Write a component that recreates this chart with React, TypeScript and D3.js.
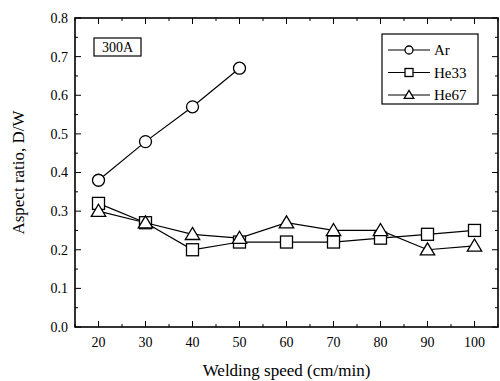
import React, { useRef, useEffect } from 'react';
import * as d3 from 'd3';

const speeds = [20, 30, 40, 50, 60, 70, 80, 90, 100];
const arValues = [0.38, 0.48, 0.57, 0.67];
const he33Values = [0.32, 0.27, 0.20, 0.22, 0.22, 0.22, 0.23, 0.24, 0.25];
const he67Values = [0.30, 0.27, 0.24, 0.23, 0.27, 0.25, 0.25, 0.20, 0.21];
const seriesNames = ['Ar', 'He33', 'He67'];
const yTicks = [0, 0.1, 0.2, 0.3, 0.4, 0.5, 0.6, 0.7, 0.8];

const App: React.FC = () => {
  const svgRef = useRef<SVGSVGElement | null>(null);

  useEffect(() => {
    const svg = d3.select(svgRef.current);
    svg.selectAll('*').remove();
    const width = 500;
    const height = 381;
    const margin = { top: 18, right: 2, bottom: 54, left: 75 };
    const font = 'Liberation Serif, DejaVu Serif, serif';

    svg.attr('width', width).attr('height', height)
      .attr('font-family', font)
      .style('position', 'absolute').style('left', 0).style('top', 0)
      .style('background', '#fff');

    const x = d3.scaleLinear().domain([15, 105]).range([margin.left, width - margin.right]);
    const y = d3.scaleLinear().domain([0, 0.8]).range([height - margin.bottom, margin.top]);
    const x0 = margin.left, x1 = width - margin.right, y0 = height - margin.bottom, y1 = margin.top;

    // frame
    svg.append('rect')
      .attr('x', x0).attr('y', y1).attr('width', x1 - x0).attr('height', y0 - y1)
      .attr('fill', 'none').attr('stroke', '#000').attr('stroke-width', 1.6);

    const ticks = svg.append('g').attr('stroke', '#000').attr('stroke-width', 1);
    const xMinor = d3.range(15, 106, 5);
    xMinor.forEach(v => {
      const len = v % 10 === 0 ? 6 : 3;
      ticks.append('line').attr('x1', x(v)).attr('x2', x(v)).attr('y1', y0).attr('y2', y0 - len);
      ticks.append('line').attr('x1', x(v)).attr('x2', x(v)).attr('y1', y1).attr('y2', y1 + len);
    });
    const yMinor = d3.range(0, 0.801, 0.05);
    yMinor.forEach((v, i) => {
      const len = i % 2 === 0 ? 6 : 3;
      ticks.append('line').attr('x1', x0).attr('x2', x0 + len).attr('y1', y(v)).attr('y2', y(v));
      ticks.append('line').attr('x1', x1).attr('x2', x1 - len).attr('y1', y(v)).attr('y2', y(v));
    });

    // tick labels
    svg.append('g').selectAll('text').data(speeds).enter().append('text')
      .attr('x', d => x(d)).attr('y', y0 + 20)
      .attr('text-anchor', 'middle')
      .attr('font-family', font).attr('font-size', 14)
      .text(d => d);
    svg.append('g').selectAll('text').data(yTicks).enter().append('text')
      .attr('x', x0 - 7).attr('y', d => y(d)).attr('dy', '0.35em')
      .attr('text-anchor', 'end')
      .attr('font-family', font).attr('font-size', 14)
      .text(d => d.toFixed(1));

    // axis titles
    svg.append('text')
      .attr('x', (x0 + x1) / 2).attr('y', 376)
      .attr('text-anchor', 'middle')
      .attr('font-family', font).attr('font-size', 17)
      .text('Welding speed (cm/min)');
    svg.append('text')
      .attr('transform', `translate(24,${(y0 + y1) / 2}) rotate(-90)`)
      .attr('text-anchor', 'middle')
      .attr('font-family', font).attr('font-size', 17)
      .text('Aspect ratio, D/W');

    const line = d3.line<[number, number]>().x(d => x(d[0])).y(d => y(d[1]));
    const series = [
      { name: 'Ar', shape: 'circle', pts: arValues.map((v, i) => [speeds[i], v] as [number, number]) },
      { name: 'He33', shape: 'square', pts: he33Values.map((v, i) => [speeds[i], v] as [number, number]) },
      { name: 'He67', shape: 'triangle', pts: he67Values.map((v, i) => [speeds[i], v] as [number, number]) },
    ];

    const drawMarker = (g, shape, cx, cy, s) => {
      if (shape === 'circle') {
        g.append('circle').attr('cx', cx).attr('cy', cy).attr('r', s)
          .attr('fill', '#fff').attr('stroke', '#000').attr('stroke-width', 1.3);
      } else if (shape === 'square') {
        g.append('rect').attr('x', cx - s).attr('y', cy - s).attr('width', 2 * s).attr('height', 2 * s)
          .attr('fill', '#fff').attr('stroke', '#000').attr('stroke-width', 1.3);
      } else {
        const h = s * 1.15;
        g.append('path')
          .attr('d', `M${cx},${cy - h}L${cx + s * 1.2},${cy + h * 0.75}L${cx - s * 1.2},${cy + h * 0.75}Z`)
          .attr('fill', '#fff').attr('stroke', '#000').attr('stroke-width', 1.3);
      }
    };

    series.forEach(s => {
      svg.append('path').datum(s.pts).attr('d', line)
        .attr('fill', 'none').attr('stroke', '#000').attr('stroke-width', 1.2);
    });
    series.forEach(s => {
      const g = svg.append('g');
      s.pts.forEach(p => drawMarker(g, s.shape, x(p[0]), y(p[1]), 6));
    });

    // 300A label
    svg.append('rect').attr('x', 94).attr('y', 38).attr('width', 47).attr('height', 18)
      .attr('fill', '#fff').attr('stroke', '#000').attr('stroke-width', 1.2);
    svg.append('text').attr('x', 117.5).attr('y', 47).attr('dy', '0.35em')
      .attr('text-anchor', 'middle')
      .attr('font-family', font).attr('font-size', 14)
      .text('300A');

    // legend
    const legend = svg.append('g');
    legend.append('rect').attr('x', 382).attr('y', 34).attr('width', 96).attr('height', 70)
      .attr('fill', '#fff').attr('stroke', '#000').attr('stroke-width', 1.2);
    series.forEach((s, i) => {
      const ly = 50 + i * 22.5;
      legend.append('line').attr('x1', 388).attr('x2', 430).attr('y1', ly).attr('y2', ly)
        .attr('stroke', '#000').attr('stroke-width', 1.2);
      drawMarker(legend, s.shape, 409, ly, 4);
      legend.append('text').attr('x', 434).attr('y', ly).attr('dy', '0.35em')
        .attr('font-family', font).attr('font-size', 15)
        .text(seriesNames[i]);
    });
  }, []);

  return <svg ref={svgRef}></svg>;
};

export default App;
